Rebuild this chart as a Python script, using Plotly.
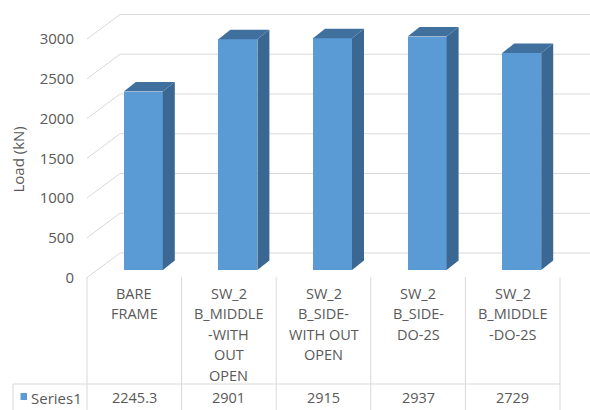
import plotly.graph_objects as go

# ---- data -------------------------------------------------------------
categories = [
    "BARE\nFRAME",
    "SW_2\nB_MIDDLE\n-WITH\nOUT\nOPEN",
    "SW_2\nB_SIDE-\nWITH OUT\nOPEN",
    "SW_2\nB_SIDE-\nDO-2S",
    "SW_2\nB_MIDDLE\n-DO-2S",
]
values = [2245.3, 2901, 2915, 2937, 2729]
value_labels = ["2245.3", "2901", "2915", "2937", "2729"]
series_name = "Series1"
y_ticks = [0, 500, 1000, 1500, 2000, 2500, 3000]
y_title = "Load (kN)"

# ---- page geometry (pixels) --------------------------------------------
W, H = 590, 410
LEFT = 87            # left edge of the front floor / table columns
COL_PX = 94.6        # width of one category column
PX_PER_UNIT = 0.0795 # vertical pixels per kN
Y0_PX = 277.5        # pixel row of value 0 on the front plane

FONT = "Open Sans"
TXT = "#595959"
GRID = "#D9D9D9"
FRONT = "#5B9BD5"
SIDE = "#3A6893"
TOP = "#40709E"

x_min = -0.5
x_max = x_min + (W - LEFT) / COL_PX
y_max = Y0_PX / PX_PER_UNIT
y_min = (Y0_PX - H) / PX_PER_UNIT

# 3-D offsets expressed in axis units
WALL_DX, WALL_DY = 33 / COL_PX, 24.5 / PX_PER_UNIT
BAR_X0, BAR_BASE = 9 / COL_PX, 7.5 / PX_PER_UNIT
BAR_W = 39 / COL_PX
BAR_DDX, BAR_DDY = 12 / COL_PX, 9.5 / PX_PER_UNIT


def py(p):
    """pixel row -> paper y"""
    return 1 - p / H


def px(p):
    """pixel column -> paper x"""
    return (p - LEFT) / (W - LEFT)


fig = go.Figure()
shapes = []

# ---- walls: side-wall diagonals and back-wall gridlines (behind bars) --
for v in y_ticks:
    shapes.append(dict(type="line", xref="x", yref="y", layer="below",
                       x0=x_min, y0=v, x1=x_min + WALL_DX, y1=v + WALL_DY,
                       line=dict(color=GRID, width=1)))
    shapes.append(dict(type="line", xref="x", yref="y", layer="below",
                       x0=x_min + WALL_DX, y0=v + WALL_DY, x1=x_max + 1,
                       y1=v + WALL_DY, line=dict(color=GRID, width=1)))

# ---- columns: front faces -------------------------------------------
xs = [i + BAR_X0 for i in range(len(values))]
fig.add_trace(go.Bar(x=xs, y=values, base=BAR_BASE, width=BAR_W,
                     marker=dict(color=FRONT, line=dict(width=0)),
                     name=series_name, showlegend=False))

# ---- columns: side and top faces --------------------------------------
for xc, v in zip(xs, values):
    xl, xr = xc - BAR_W / 2, xc + BAR_W / 2
    b, t = BAR_BASE, BAR_BASE + v
    fig.add_trace(go.Scatter(
        x=[xr, xr, xr + BAR_DDX, xr + BAR_DDX, xr],
        y=[b, t, t + BAR_DDY, b + BAR_DDY, b],
        fill="toself", fillcolor=SIDE, mode="lines",
        line=dict(width=0, color=SIDE), hoverinfo="skip", showlegend=False))
    fig.add_trace(go.Scatter(
        x=[xl, xr, xr + BAR_DDX, xl + BAR_DDX, xl],
        y=[t, t, t + BAR_DDY, t + BAR_DDY, t],
        fill="toself", fillcolor=TOP, mode="lines",
        line=dict(width=0, color=TOP), hoverinfo="skip", showlegend=False))

# ---- data table ---------------------------------------------------------
n = len(categories)
for i in range(n + 1):
    xp = px(LEFT + i * COL_PX)
    shapes.append(dict(type="line", xref="paper", yref="paper",
                       x0=xp, x1=xp, y0=py(277), y1=py(H),
                       line=dict(color=GRID, width=1)))
shapes.append(dict(type="line", xref="paper", yref="paper",
                   x0=px(13), x1=px(LEFT + n * COL_PX), y0=py(384), y1=py(384),
                   line=dict(color=GRID, width=1)))
shapes.append(dict(type="line", xref="paper", yref="paper",
                   x0=px(13), x1=px(13), y0=py(384), y1=py(H),
                   line=dict(color=GRID, width=1)))
# legend key of the series row
shapes.append(dict(type="rect", xref="paper", yref="paper",
                   x0=px(20.5), x1=px(27), y0=py(393), y1=py(400),
                   fillcolor=FRONT, line=dict(width=0)))

annotations = []
for i, cat in enumerate(categories):
    for k, line in enumerate(cat.split("\n")):
        annotations.append(dict(x=i, xref="x", y=py(293 + k * 20.5), yref="paper",
                                text=line, showarrow=False, xanchor="center",
                                yanchor="middle",
                                font=dict(family=FONT, size=14.5, color=TXT)))
    annotations.append(dict(x=i, xref="x", y=py(397.5), yref="paper",
                            text=value_labels[i], showarrow=False,
                            xanchor="center", yanchor="middle",
                            font=dict(family=FONT, size=14.5, color=TXT)))
annotations.append(dict(x=px(29), xref="paper", y=py(397.5), yref="paper",
                        text=series_name, showarrow=False, xanchor="left",
                        yanchor="middle",
                        font=dict(family=FONT, size=15, color=TXT)))
annotations.append(dict(x=px(17.5), xref="paper", y=py(160), yref="paper",
                        text=y_title, showarrow=False, textangle=-90,
                        xanchor="center", yanchor="middle",
                        font=dict(family=FONT, size=15, color=TXT)))

fig.update_layout(
    width=W, height=H,
    margin=dict(l=LEFT, r=0, t=0, b=0),
    paper_bgcolor="white", plot_bgcolor="white",
    bargap=0, barmode="overlay",
    shapes=shapes, annotations=annotations,
    xaxis=dict(range=[x_min, x_max], visible=False, fixedrange=True),
    yaxis=dict(range=[y_min, y_max], tickvals=y_ticks, showgrid=False,
               zeroline=False, showline=False, ticks="",
               ticklabelstandoff=12,
               tickfont=dict(family=FONT, size=15, color=TXT)),
    showlegend=False,
)

fig.write_html("out.html")
